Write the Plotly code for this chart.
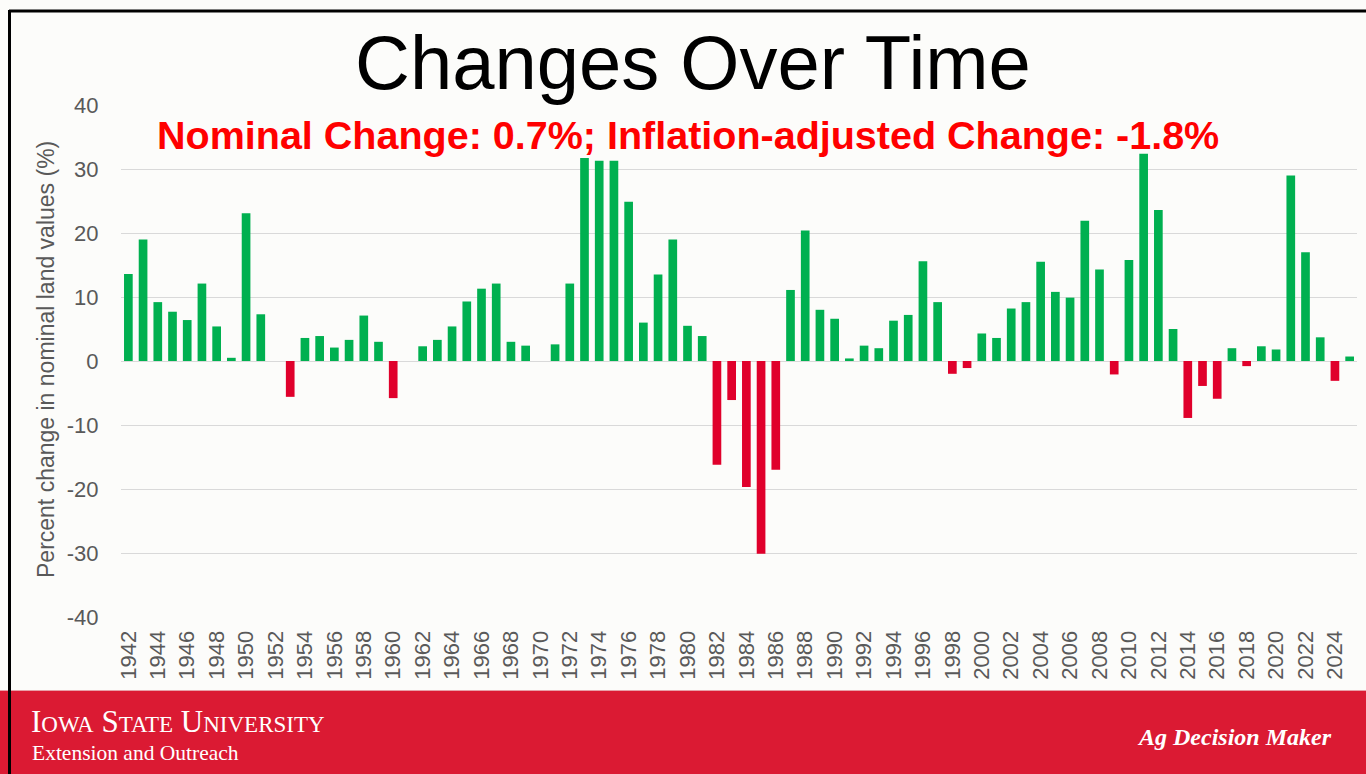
import plotly.graph_objects as go

years = list(range(1942, 2026))
values = [
    13.6, 19.0, 9.2, 7.7, 6.4, 12.1, 5.4, 0.5, 23.1, 7.3,   # 1942-1951
    0.0, -5.6, 3.6, 3.9, 2.1, 3.3, 7.1, 3.0, -5.8, 0.0,     # 1952-1961
    2.3, 3.3, 5.4, 9.3, 11.3, 12.1, 3.0, 2.4, 0.0, 2.6,     # 1962-1971
    12.1, 31.7, 31.3, 31.3, 24.9, 6.0, 13.5, 19.0, 5.5, 3.9,  # 1972-1981
    -16.2, -6.1, -19.7, -30.1, -17.0, 11.1, 20.4, 8.0, 6.6, 0.4,  # 1982-1991
    2.4, 2.0, 6.3, 7.2, 15.6, 9.2, -2.0, -1.1, 4.3, 3.6,    # 1992-2001
    8.2, 9.2, 15.5, 10.8, 9.9, 21.9, 14.3, -2.1, 15.8, 32.4,  # 2002-2011
    23.6, 5.0, -8.9, -3.9, -5.9, 2.0, -0.8, 2.3, 1.8, 29.0,  # 2012-2021
    17.0, 3.7, -3.1, 0.7,                                   # 2022-2025
]
tick_years = [y for y in years if y % 2 == 0]
y_ticks = [-40, -30, -20, -10, 0, 10, 20, 30, 40]
y_tick_text = ["-40", "-30", "-20", "-10", "0", "10", "20", "30", "40"]

title_text = "Changes Over Time"
subtitle_text = "Nominal Change: 0.7%; Inflation-adjusted Change: -1.8%"
y_title = "Percent change in nominal land values (%)"

GREEN = "#00B050"
RED = "#E0002B"
FOOT = "#DB1A33"
GREY = "#595959"

W, H = 1366, 774
L, R, T, B = 121, 9, 105, 157
PW, PH = W - L - R, H - T - B


def px_x(p):
    return (p - L) / PW


def px_y(p):
    return (H - B - p) / PH


colors = [GREEN if v >= 0 else RED for v in values]

fig = go.Figure(go.Bar(
    x=[str(y) for y in years], y=values, marker_color=colors,
    marker_line_width=0, hoverinfo="x+y",
))

fig.update_layout(
    width=W, height=H, autosize=False,
    margin=dict(l=L, r=R, t=T, b=B, pad=0),
    paper_bgcolor="#FCFCFA", plot_bgcolor="#FCFCFA",
    bargap=0.41, showlegend=False,
    font=dict(family="Liberation Sans, Arial, sans-serif", color=GREY),
    xaxis=dict(
        type="category", tickmode="array",
        tickvals=[str(y) for y in tick_years], ticktext=[str(y) for y in tick_years],
        tickangle=-90, tickfont=dict(size=22, color=GREY),
        showgrid=False, showline=False, ticks="outside", ticklen=4,
        tickcolor="rgba(0,0,0,0)", fixedrange=True,
    ),
    yaxis=dict(
        range=[-40, 40], tickvals=y_ticks, ticktext=y_tick_text,
        tickfont=dict(size=22, color=GREY),
        showgrid=True, gridcolor="#D9D9D9", gridwidth=1,
        zeroline=True, zerolinecolor="#D9D9D9", zerolinewidth=1,
        ticks="outside", ticklen=17, tickcolor="rgba(0,0,0,0)",
        showline=False, fixedrange=True,
    ),
)

SERIF = "Liberation Serif, Times New Roman, serif"
annotations = [
    dict(text=title_text, x=px_x(693), y=px_y(62), xref="paper", yref="paper",
         showarrow=False, xanchor="center", yanchor="middle",
         font=dict(size=76, color="#000000", family="Liberation Sans, Arial")),
    dict(text="<b>" + subtitle_text + "</b>", x=px_x(688), y=px_y(135), xref="paper", yref="paper",
         showarrow=False, xanchor="center", yanchor="middle",
         font=dict(size=39.5, color="#FF0000", family="Liberation Sans, Arial")),
    dict(text=y_title, x=px_x(46), y=px_y(360), xref="paper", yref="paper",
         showarrow=False, xanchor="center", yanchor="middle", textangle=-90,
         font=dict(size=23, color=GREY, family="Liberation Sans, Arial")),
    dict(text="I<span style='font-size:23px'>OWA</span> S<span style='font-size:23px'>TATE</span> U<span style='font-size:23px'>NIVERSITY</span>",
         x=px_x(30), y=px_y(740), xref="paper", yref="paper",
         showarrow=False, xanchor="left", yanchor="bottom", borderpad=0,
         font=dict(size=31, color="#FFFFFF", family=SERIF)),
    dict(text="Extension and Outreach", x=px_x(31), y=px_y(740), xref="paper", yref="paper",
         showarrow=False, xanchor="left", yanchor="top", borderpad=0,
         font=dict(size=21.5, color="#FFFFFF", family=SERIF)),
    dict(text="<b><i>Ag Decision Maker</i></b>", x=px_x(1334), y=px_y(737), xref="paper", yref="paper",
         showarrow=False, xanchor="right", yanchor="middle",
         font=dict(size=24, color="#FFFFFF", family=SERIF)),
]
fig.update_layout(annotations=annotations)

shapes = [
    dict(type="rect", xref="paper", yref="paper", x0=px_x(0), x1=px_x(W), y0=px_y(690), y1=px_y(H + 2),
         fillcolor=FOOT, line=dict(width=0), layer="below"),
    dict(type="line", xref="paper", yref="paper", x0=px_x(0), x1=px_x(W), y0=px_y(690.5), y1=px_y(690.5),
         line=dict(color="#E8A0A8", width=1)),
    dict(type="line", xref="paper", yref="paper", x0=px_x(9), x1=px_x(W + 2), y0=px_y(11), y1=px_y(11),
         line=dict(color="#000000", width=3)),
    dict(type="line", xref="paper", yref="paper", x0=px_x(9.5), x1=px_x(9.5), y0=px_y(10), y1=px_y(H + 2),
         line=dict(color="#000000", width=3)),
]
fig.update_layout(shapes=shapes)

fig.write_html("out.html", config={"displayModeBar": False},
               post_script="document.body.style.margin='0';document.body.style.overflow='hidden';")
